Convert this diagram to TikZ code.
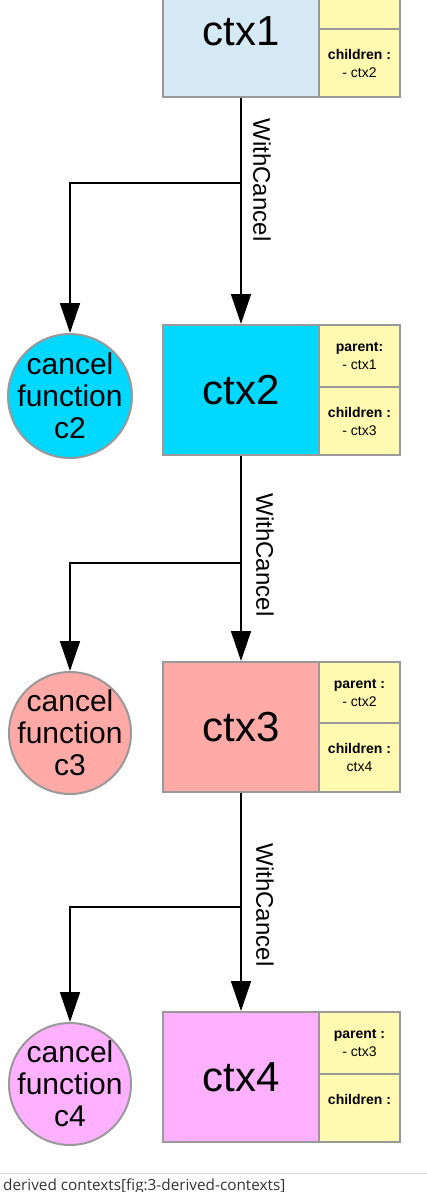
\documentclass[tikz,border=0pt]{standalone}
\usepackage{fontspec}
\setmainfont{Liberation Sans}
\newfontfamily\capfont{Open Sans}
\usetikzlibrary{arrows.meta}
\definecolor{bordergray}{HTML}{999999}
\definecolor{sideyellow}{HTML}{FFFAB0}
\definecolor{fillone}{HTML}{D6EAF6}
\definecolor{filltwo}{HTML}{00D8FF}
\definecolor{fillthree}{HTML}{FFAAA7}
\definecolor{fillfour}{HTML}{FFB0FF}
\definecolor{capgray}{HTML}{333333}
\definecolor{rulegray}{HTML}{DDDDDD}
\tikzset{
  ctxbox/.style={draw=bordergray, line width=2pt, rectangle, minimum width=156pt, inner sep=0pt,
    font=\fontsize{42}{48}\selectfont},
  sidebox/.style={draw=bordergray, line width=2pt, rectangle, fill=sideyellow, minimum width=81pt,
    inner sep=0pt, align=center, font=\fontsize{14}{18}\selectfont},
  cfun/.style={draw=bordergray, line width=2pt, circle, inner sep=0pt},
  cfuntext/.style={label={[align=center, inner sep=0pt, font=\fontsize{30}{32}\selectfont]center:#1}},
  conn/.style={line width=1.6pt, draw=black, -{Triangle[length=30pt,width=20pt]}},
  lbl/.style={rotate=-90, inner sep=0pt, font=\fontsize{24}{28}\selectfont}
}
\begin{document}
\begin{tikzpicture}[x=1pt,y=-1pt]
\useasboundingbox (0,0) rectangle (427,1192);
\clip (0,0) rectangle (427,1192);
% ctx1
\node[ctxbox, fill=fillone, minimum height=132pt] (m1) at (241,31) {\raisebox{-3pt}{ctx1}};
\node[sidebox, minimum height=64pt] (p1) at (359.5,-3) {};
\node[sidebox, minimum height=68pt] (k1) at (359.5,63) {\textbf{children :}\\- ctx2};
% ctx2
\node[ctxbox, fill=filltwo, minimum height=130pt] (m2) at (241,390) {\raisebox{-3pt}{ctx2}};
\node[sidebox, minimum height=62pt] (p2) at (359.5,356) {\textbf{parent:}\\- ctx1};
\node[sidebox, minimum height=68pt] (k2) at (359.5,421) {\textbf{children :}\\- ctx3};
\node[cfun, fill=filltwo, minimum size=124pt, cfuntext={cancel\\function\\c2}] (c2) at (70,396) {};
% ctx3
\node[ctxbox, fill=fillthree, minimum height=130pt] (m3) at (241,727) {\raisebox{-3pt}{ctx3}};
\node[sidebox, minimum height=61pt] (p3) at (359.5,692.5) {\textbf{parent :}\\- ctx2};
\node[sidebox, minimum height=69pt] (k3) at (359.5,757.5) {\textbf{children :}\\ctx4};
\node[cfun, fill=fillthree, minimum size=122pt, cfuntext={cancel\\function\\c3}] (c3) at (70,733) {};
% ctx4
\node[ctxbox, fill=fillfour, minimum height=130pt] (m4) at (241,1077) {\raisebox{-3pt}{ctx4}};
\node[sidebox, minimum height=62pt] (p4) at (359.5,1043) {\textbf{parent :}\\- ctx3};
\node[sidebox, minimum height=68pt] (k4) at (359.5,1108) {\textbf{children :}\\\phantom{- ctx}};
\node[cfun, fill=fillfour, minimum size=122pt, cfuntext={cancel\\function\\c4}] (c4) at (70,1084) {};
% connectors
\coordinate (j1) at (241,183);
\coordinate (j2) at (241,563);
\coordinate (j3) at (241,907);
\draw[conn] (m1.south) -- (m2.north);
\draw[conn] (j1) -| (c2.north);
\draw[conn] (m2.south) -- (m3.north);
\draw[conn] (j2) -| (c3.north);
\draw[conn] (m3.south) -- (m4.north);
\draw[conn] (j3) -| (c4.north);
\node[lbl] (l1) at (262,180) {WithCancel};
\node[lbl] (l2) at (265,555) {WithCancel};
\node[lbl] (l3) at (265,905) {WithCancel};
% caption
\coordinate (r1) at (0,1173);
\coordinate (r2) at (427,1173);
\draw[rulegray, line width=1pt] (r1) -- (r2);
\node[anchor=base west, inner sep=0pt, text=capgray, font=\capfont\fontsize{15.3}{18}\selectfont] (cap) at (3,1190) {derived contexts[fig:3-derived-contexts]};
\end{tikzpicture}
\end{document}
